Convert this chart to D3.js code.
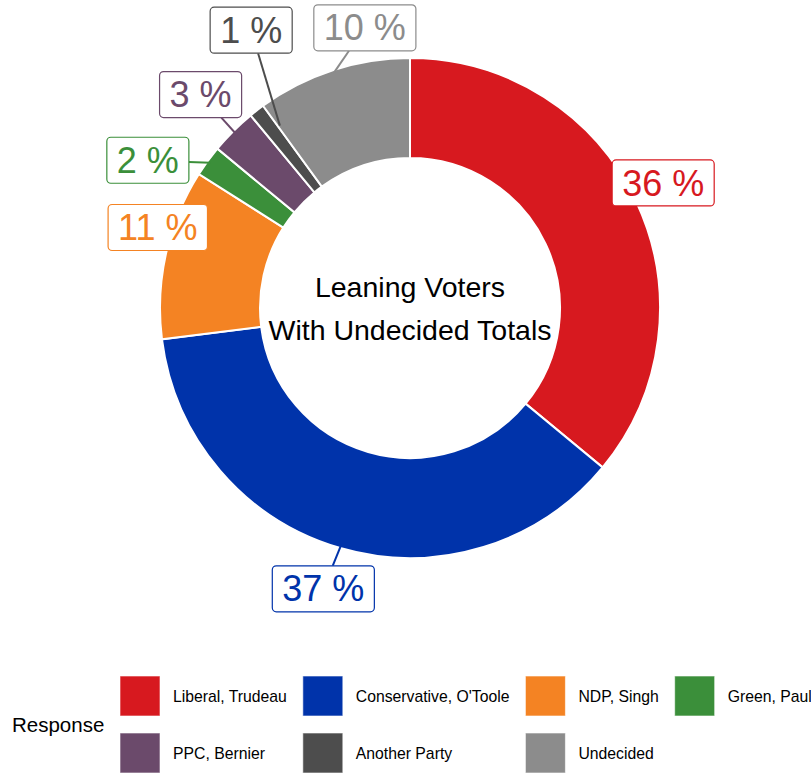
<!DOCTYPE html>
<html>
<head>
<meta charset="utf-8">
<script src="https://cdn.jsdelivr.net/npm/d3@7"></script>
<style>
  body { margin: 0; background: #fff; }
  svg { display: block; font-family: 'Liberation Sans', Arial, sans-serif; }
</style>
</head>
<body>
<div class="viz"></div>
<script>
// responses and their share of leaning voters (percent)
const responses = ['Liberal, Trudeau', 'Conservative, O\'Toole', 'NDP, Singh', 'Green, Paul', 'PPC, Bernier', 'Another Party', 'Undecided'];
const shares = [36, 37, 11, 2, 3, 1, 10];
const colors = ['#d7191f', '#0033aa', '#f48323', '#3b8f3a', '#6b4a6b', '#4d4d4d', '#8c8c8c'];
const titleLines = ['Leaning Voters', 'With Undecided Totals'];

// layout, kept apart from the data
const width = 811;
const height = 774;
const center = { x: 410, y: 308 };
const outerRadius = 250;
const innerRadius = 150;
const labelRadius = 282;
// small shifts imitating the repelled label placement
const labelNudge = [[-2, -5], [-8, 10], [23, -19], [-34, 18], [-10, -14], [14, -55], [42, -12]];
// how deep each segment reaches (the tiny slice's segment runs into it)
const segmentDepth = [3, 3, 3, 3, 6, 26, 3];

const data = responses.map((name, i) => ({ name, value: shares[i], color: colors[i], nudge: labelNudge[i], depth: segmentDepth[i] }));

const svg = d3.select('.viz')
  .append('svg')
  .attr('width', width)
  .attr('height', height);

const group = svg.append('g')
  .attr('transform', `translate(${center.x} ${center.y})`);

const pie = d3.pie()
  .sort(null)
  .value(d => d.value);

const arc = d3.arc()
  .innerRadius(innerRadius)
  .outerRadius(outerRadius);

const slices = pie(data);

group.selectAll('path.slice')
  .data(slices)
  .enter()
  .append('path')
  .attr('class', 'slice')
  .attr('d', arc)
  .attr('fill', d => d.data.color)
  .attr('stroke', '#fff')
  .attr('stroke-width', 2);

// centre title
group.append('text')
  .attr('text-anchor', 'middle')
  .attr('font-size', '28.5px')
  .attr('fill', '#000')
  .selectAll('tspan')
  .data(titleLines)
  .enter()
  .append('tspan')
  .attr('x', 0)
  .attr('y', (d, i) => (i === 0 ? -11 : 32))
  .text(d => d);

// labels with connecting segments
const polar = (angle, r) => [Math.sin(angle) * r, -Math.cos(angle) * r];

const labels = group.append('g').attr('class', 'labels');

slices.forEach(s => {
  const mid = (s.startAngle + s.endAngle) / 2;
  const [lx0, ly0] = polar(mid, labelRadius);
  const lx = lx0 + s.data.nudge[0];
  const ly = ly0 + s.data.nudge[1];
  const [px, py] = polar(mid + (s.data.depth > 10 ? 0.04 : 0), outerRadius - s.data.depth);

  const g = labels.append('g');
  const rect = g.append('rect');
  const text = g.append('text')
    .attr('x', lx)
    .attr('y', ly)
    .attr('dy', '0.35em')
    .attr('text-anchor', 'middle')
    .attr('font-size', '36px')
    .attr('fill', s.data.color)
    .text(`${s.data.value} %`);

  const w = text.node().getComputedTextLength() + 20;
  const h = 46;
  rect
    .attr('x', lx - w / 2)
    .attr('y', ly - h / 2)
    .attr('width', w)
    .attr('height', h)
    .attr('rx', 4)
    .attr('fill', '#fff')
    .attr('stroke', s.data.color)
    .attr('stroke-width', 1.2);

  // segment from box edge toward the slice, only when the slice is away from the box
  const dx = px - lx;
  const dy = py - ly;
  const outsideX = Math.max(0, Math.abs(dx) - w / 2);
  const outsideY = Math.max(0, Math.abs(dy) - h / 2);
  if (Math.hypot(outsideX, outsideY) > 6) {
    const t = Math.min(
      dx !== 0 ? (w / 2) / Math.abs(dx) : Infinity,
      dy !== 0 ? (h / 2) / Math.abs(dy) : Infinity
    );
    g.insert('line', 'rect')
      .attr('x1', lx + dx * t)
      .attr('y1', ly + dy * t)
      .attr('x2', px)
      .attr('y2', py)
      .attr('stroke', s.data.color)
      .attr('stroke-width', 2);
  }
});

// LEGEND
const legend = svg.append('g').attr('class', 'legend');

legend.append('text')
  .attr('x', 12)
  .attr('y', 725)
  .attr('dy', '0.35em')
  .attr('font-size', '20.5px')
  .attr('fill', '#000')
  .text('Response');

const perRow = 4;
const keySize = 40;
const rowTop = [676, 733];
const legendFont = '15.75px';

// measure labels so each column is as wide as its widest label
const measure = legend.append('text').attr('font-size', legendFont);
const labelWidths = responses.map(r => {
  measure.text(r);
  return measure.node().getComputedTextLength();
});
measure.remove();

const colX = [];
let x = 120;
for (let c = 0; c < perRow; c += 1) {
  colX.push(x);
  const widest = d3.max(labelWidths.filter((w, i) => i % perRow === c));
  x += keySize + 13 + widest + 16;
}

const items = legend.selectAll('g.item')
  .data(data)
  .enter()
  .append('g')
  .attr('class', 'item')
  .attr('transform', (d, i) => `translate(${colX[i % perRow]} ${rowTop[Math.floor(i / perRow)]})`);

items.append('rect')
  .attr('width', keySize)
  .attr('height', keySize)
  .attr('fill', d => d.color)
  .attr('stroke', '#fff')
  .attr('stroke-opacity', 0.6)
  .attr('stroke-width', 1);

items.append('text')
  .attr('x', keySize + 13)
  .attr('y', keySize / 2)
  .attr('dy', '0.38em')
  .attr('font-size', legendFont)
  .attr('fill', '#000')
  .text(d => d.name);
</script>
</body>
</html>
